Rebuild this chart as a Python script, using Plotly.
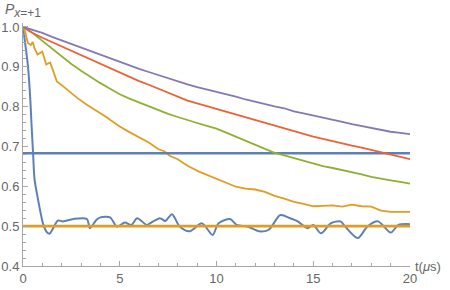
import plotly.graph_objects as go

# ---------------- data ----------------
t_half = [i * 0.5 for i in range(41)]

purple = [1.0, 0.993, 0.985, 0.975, 0.966, 0.957, 0.948, 0.939, 0.930, 0.921,
          0.912, 0.904, 0.895, 0.887, 0.879, 0.871, 0.864, 0.856, 0.849, 0.843,
          0.838, 0.831, 0.825, 0.818, 0.812, 0.807, 0.801, 0.796, 0.788, 0.783,
          0.778, 0.773, 0.767, 0.762, 0.756, 0.751, 0.746, 0.741, 0.737, 0.734, 0.731]

red = [1.0, 0.985, 0.973, 0.962, 0.951, 0.941, 0.930, 0.919, 0.908, 0.896,
       0.885, 0.875, 0.864, 0.855, 0.845, 0.835, 0.825, 0.815, 0.808, 0.801,
       0.794, 0.787, 0.780, 0.773, 0.766, 0.759, 0.752, 0.745, 0.738, 0.731,
       0.725, 0.719, 0.713, 0.708, 0.702, 0.697, 0.691, 0.686, 0.680, 0.674, 0.668]

green = [1.0, 0.985, 0.965, 0.945, 0.925, 0.907, 0.890, 0.874, 0.859, 0.845,
         0.831, 0.820, 0.810, 0.801, 0.792, 0.782, 0.774, 0.766, 0.759, 0.752,
         0.745, 0.735, 0.725, 0.715, 0.705, 0.695, 0.684, 0.678, 0.671, 0.664,
         0.657, 0.651, 0.646, 0.641, 0.635, 0.630, 0.624, 0.619, 0.615, 0.611, 0.607]

orange_t = [0, 0.1, 0.25, 0.4, 0.5, 0.6, 0.75, 0.9, 1.0, 1.2, 1.4, 1.55, 1.75, 2.0,
            2.4, 2.8, 3.3, 3.8, 4.3, 4.7, 5.0, 5.5, 6.0, 6.5, 7.0, 7.3, 7.6, 8.0,
            8.3, 8.6, 9.1, 9.6, 10.0, 10.5, 11.0, 11.5, 12.0, 12.5, 13.0, 13.5,
            14.0, 14.5, 15.0, 15.5, 16.0, 16.5, 17.0, 17.5, 18.0, 18.5, 19.0, 19.5, 20.0]
orange = [1.0, 0.99, 0.96, 0.955, 0.962, 0.946, 0.931, 0.936, 0.938, 0.906, 0.911,
          0.891, 0.863, 0.854, 0.838, 0.822, 0.805, 0.790, 0.774, 0.760, 0.750,
          0.736, 0.723, 0.710, 0.693, 0.688, 0.676, 0.668, 0.658, 0.649, 0.637,
          0.627, 0.618, 0.609, 0.599, 0.594, 0.592, 0.586, 0.576, 0.569, 0.561,
          0.556, 0.550, 0.551, 0.552, 0.549, 0.554, 0.550, 0.549, 0.539, 0.536,
          0.536, 0.536]

osc_t = [0, 0.09, 0.26, 0.38, 0.43, 0.52, 0.6, 0.78, 0.95, 1.03, 1.2, 1.36, 1.56,
         1.8, 2.07, 2.6, 3.3, 3.46, 3.8, 4.0, 4.5, 4.85, 5.27, 5.6, 5.9, 6.4, 6.56,
         7.08, 7.35, 7.7, 8.1, 8.6, 9.25, 9.8, 10.1, 10.7, 11.05, 11.6, 12.2, 12.7,
         13.3, 13.8, 14.2, 14.7, 15.0, 15.4, 15.9, 16.4, 16.65, 17.3, 17.8, 18.35,
         19.0, 19.4, 20.0]
osc = [1.0, 0.967, 0.9, 0.816, 0.766, 0.683, 0.616, 0.566, 0.524, 0.507, 0.487,
       0.481, 0.495, 0.514, 0.512, 0.518, 0.518, 0.495, 0.516, 0.522, 0.522, 0.499,
       0.509, 0.503, 0.520, 0.503, 0.507, 0.520, 0.513, 0.530, 0.499, 0.487, 0.507,
       0.478, 0.507, 0.518, 0.503, 0.499, 0.487, 0.491, 0.528, 0.520, 0.512, 0.495,
       0.503, 0.482, 0.507, 0.512, 0.499, 0.470, 0.499, 0.512, 0.484, 0.503, 0.505]

h_blue = 0.683
h_orange = 0.5
t_range = [0, 20]

x_ticks = [0, 5, 10, 15, 20]
y_ticks = [0.4, 0.5, 0.6, 0.7, 0.8, 0.9, 1.0]
y_tick_text = ["0.4", "0.5", "0.6", "0.7", "0.8", "0.9", "1.0"]

# ---------------- colours ----------------
C_BLUE = "#5E81B5"
C_ORANGE = "#E19C24"
C_GREEN = "#8FB032"
C_RED = "#EB6235"
C_PURPLE = "#8778B3"
AX = "#a6a6a6"
TXT = "#666666"

fig = go.Figure()
fig.add_trace(go.Scatter(x=osc_t, y=osc, mode="lines",
                         line=dict(color=C_BLUE, width=2, shape="spline", smoothing=0.8)))
fig.add_trace(go.Scatter(x=t_range, y=[h_orange, h_orange], mode="lines",
                         line=dict(color=C_ORANGE, width=2.6)))
fig.add_trace(go.Scatter(x=orange_t, y=orange, mode="lines",
                         line=dict(color=C_ORANGE, width=1.8)))
fig.add_trace(go.Scatter(x=t_range, y=[h_blue, h_blue], mode="lines",
                         line=dict(color=C_BLUE, width=2.6)))
fig.add_trace(go.Scatter(x=t_half, y=green, mode="lines",
                         line=dict(color=C_GREEN, width=1.8)))
fig.add_trace(go.Scatter(x=t_half, y=red, mode="lines",
                         line=dict(color=C_RED, width=1.8)))
fig.add_trace(go.Scatter(x=t_half, y=purple, mode="lines",
                         line=dict(color=C_PURPLE, width=1.8)))

fig.update_layout(
    width=450, height=290,
    margin=dict(l=23, r=40, t=23, b=24, autoexpand=False),
    paper_bgcolor="white", plot_bgcolor="white",
    showlegend=False,
    font=dict(family="Liberation Sans, Arial, sans-serif", size=13, color=TXT),
)
fig.update_xaxes(
    range=[0, 20], tickvals=x_ticks, ticktext=[str(v) for v in x_ticks],
    showgrid=False, zeroline=False, showline=True, linecolor=AX, linewidth=1,
    ticks="inside", ticklen=5, tickcolor=AX, tickwidth=1, automargin=False,
    minor=dict(dtick=1, ticks="inside", ticklen=3, tickcolor=AX, showgrid=False),
    tickfont=dict(size=13, color=TXT),
)
fig.update_yaxes(
    range=[0.4, 1.01], tickvals=y_ticks, ticktext=y_tick_text,
    showgrid=False, zeroline=False, showline=True, linecolor=AX, linewidth=1,
    ticks="inside", ticklen=5, tickcolor=AX, tickwidth=1, automargin=False,
    minor=dict(dtick=0.02, tick0=0.4, ticks="inside", ticklen=3, tickcolor=AX, showgrid=False),
    tickfont=dict(size=13, color=TXT),
)
fig.add_annotation(xref="paper", yref="paper", x=1, y=0, xanchor="left", yanchor="middle",
                   xshift=3, text="t(<i>μ</i>s)", showarrow=False,
                   font=dict(size=13, color=TXT))
fig.add_annotation(xref="paper", yref="paper", x=0, y=1, xanchor="left", yanchor="bottom",
                   xshift=-20, yshift=1,
                   text="<i>P</i><sub><span style='font-size:12px'><i>x</i>=+1</span></sub>",
                   showarrow=False, font=dict(size=14, color=TXT))

fig.write_html("out.html", config={"displayModeBar": False},
               post_script="document.body.style.margin='0';")
